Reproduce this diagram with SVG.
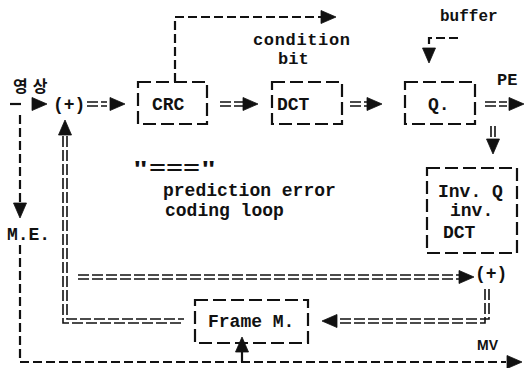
<svg xmlns="http://www.w3.org/2000/svg" xmlns:xlink="http://www.w3.org/1999/xlink" width="532" height="368" viewBox="0 0 532 368">
<style>
.bg{fill:#fff}
.t{font-family:"Liberation Mono","DejaVu Sans Mono",monospace;font-weight:bold;font-size:18px;fill:#111}
.box{fill:none;stroke:#111;stroke-width:2.2;stroke-dasharray:13 5}
.d{fill:none;stroke:#111;stroke-width:2.2;stroke-dasharray:9 4}
.dd{fill:none;stroke:#111;stroke-width:1.6;stroke-dasharray:11 3}
.s{fill:none;stroke:#111;stroke-width:2.2}
</style>
<defs>
<path id="ar" d="M-15,-6.5 L0,0 L-15,6.5 Z" fill="#111" stroke="#111" stroke-width="0.8" stroke-linejoin="round"/>
</defs>
<rect class="bg" x="0" y="0" width="532" height="368"/>
<g id="connectors">
  <!-- input -->
  <line class="s" x1="10" y1="104" x2="21" y2="104"/>
  <use xlink:href="#ar" transform="translate(47,104)"/>
  <!-- left M.E. dashed line -->
  <path class="d" d="M20,115 V203"/>
  <use xlink:href="#ar" transform="translate(20,218) rotate(90)"/>
  <path class="d" d="M20,245 V362 H506"/>
  <use xlink:href="#ar" transform="translate(522,362)"/>
  <!-- MV up to Frame M -->
  <line class="s" x1="242" y1="362" x2="242" y2="351"/>
  <use xlink:href="#ar" transform="translate(242,337) rotate(-90)"/>
  <!-- (+) -> CRC -->
  <path class="dd" d="M87,102 H107 M87,106 H107"/>
  <use xlink:href="#ar" transform="translate(125,104)"/>
  <!-- CRC -> DCT -->
  <path class="dd" d="M220,102 H243 M220,106 H243"/>
  <use xlink:href="#ar" transform="translate(258,104)"/>
  <!-- DCT -> Q -->
  <path class="dd" d="M350,102 H368 M350,106 H368"/>
  <use xlink:href="#ar" transform="translate(382,104)"/>
  <!-- Q -> PE -->
  <path class="dd" d="M485,102 H507 M485,106 H507"/>
  <use xlink:href="#ar" transform="translate(524,104)"/>
  <!-- Q down to Inv Q -->
  <path class="dd" d="M491,126 V140 M495,126 V140"/>
  <use xlink:href="#ar" transform="translate(493,154) rotate(90)"/>
  <!-- condition bit -->
  <path class="d" d="M175,82 V17 H321"/>
  <use xlink:href="#ar" transform="translate(336,17)"/>
  <!-- buffer -->
  <path class="d" d="M458,38 H429 V47"/>
  <use xlink:href="#ar" transform="translate(429,63) rotate(90)"/>
  <!-- feedback from Frame M to left (+) -->
  <path class="dd" d="M63,136 V323 H184 M67,136 V319 H184"/>
  <use xlink:href="#ar" transform="translate(65,120) rotate(-90)"/>
  <!-- prediction to right (+) -->
  <path class="dd" d="M78,275 H459 M78,279 H459"/>
  <use xlink:href="#ar" transform="translate(474,277)"/>
  <!-- right (+) down to Frame M -->
  <path class="dd" d="M485,289 V323 H338 M489,289 V319 H338"/>
  <use xlink:href="#ar" transform="translate(322,321) rotate(180)"/>
</g>
<g id="input">
  <text x="13" y="92" style="font-family:'Noto Sans CJK KR',sans-serif;font-weight:bold;font-size:16px;letter-spacing:5px;fill:#111">영상</text>
</g>
<g id="adder1"><text class="t" x="53" y="110">(+)</text></g>
<g id="crc"><rect class="box" x="138" y="82" width="69" height="42"/><text class="t" x="152" y="110">CRC</text></g>
<g id="dct"><rect class="box" x="272" y="82" width="70" height="42"/><text class="t" x="277" y="110">DCT</text></g>
<g id="q"><rect class="box" x="405" y="82" width="70" height="42"/><text class="t" x="428" y="110">Q.</text></g>
<g id="pe"><text class="t" x="497" y="85" style="font-size:17px">PE</text></g>
<g id="condition"><text class="t" x="253" y="45" style="font-size:17px" textLength="97">condition</text><text class="t" x="278" y="64" style="font-size:17px">bit</text></g>
<g id="buffer"><text class="t" x="440" y="21" style="font-size:16px">buffer</text></g>
<g id="me"><text class="t" x="7" y="240" textLength="43">M.E.</text></g>
<g id="legend">
  <text class="t" x="132" y="174" textLength="85" lengthAdjust="spacingAndGlyphs">"==="</text>
  <text class="t" x="163" y="196">prediction error</text>
  <text class="t" x="165" y="216">coding loop</text>
</g>
<g id="invq"><rect class="box" x="427" y="168" width="90" height="85"/>
  <text class="t" x="438" y="197">Inv. Q</text>
  <text class="t" x="450" y="216">inv.</text>
  <text class="t" x="443" y="238">DCT</text>
</g>
<g id="adder2"><text class="t" x="475" y="279">(+)</text></g>
<g id="framem"><rect class="box" x="195" y="300" width="113" height="43"/><text class="t" x="208" y="327">Frame M.</text></g>
<g id="mv"><text x="477" y="350" style="font-family:'Liberation Sans',sans-serif;font-weight:bold;font-size:14px;fill:#111">MV</text></g>
</svg>
